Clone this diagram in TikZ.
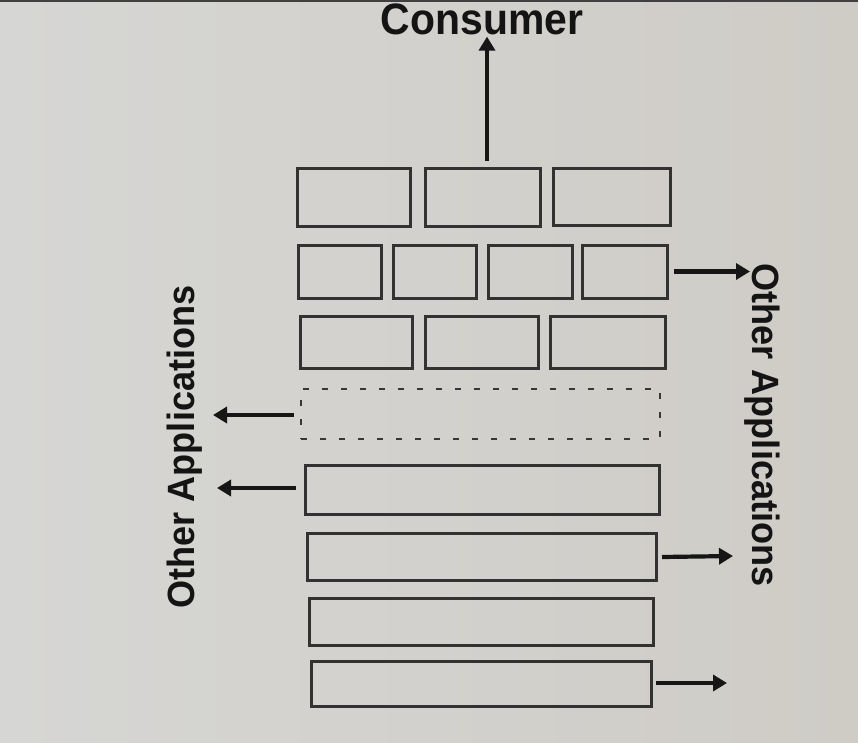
\documentclass[tikz,border=0pt]{standalone}
\usepackage{fontspec}
\usetikzlibrary{arrows.meta}
\newfontfamily\labfont[FakeStretch=0.95]{Liberation Sans Bold}
\newfontfamily\consfont[FakeStretch=0.93]{Liberation Sans Bold}
\definecolor{bgl}{RGB}{214,214,212}
\definecolor{bgm}{RGB}{223,220,214}
\definecolor{bgr}{RGB}{207,204,198}
\definecolor{boxc}{RGB}{50,50,50}
\definecolor{dashc}{RGB}{55,55,55}
\definecolor{arrc}{RGB}{22,22,22}
\definecolor{txtc}{RGB}{20,20,20}
\tikzset{
  brick/.style={draw=boxc, line width=3pt, inner sep=0pt, outer sep=0pt},
  ghost/.style={draw=dashc, line width=2.8pt, dash pattern=on 6pt off 13pt, inner sep=0pt, outer sep=0pt},
  arr/.style={draw=arrc, line width=4.2pt, -{Triangle[length=14pt,width=16pt]}},
  sidelbl/.style={font=\labfont\fontsize{38}{40}\selectfont, text=txtc, inner sep=0pt},
  conslbl/.style={font=\consfont\fontsize{44}{46}\selectfont, text=txtc, inner sep=0pt}
}
\begin{document}
\begin{tikzpicture}[x=1pt,y=-1pt]
  % background (photo of a page)
  \useasboundingbox (0,0) rectangle (858,743);
  \shade[left color=bgl, middle color=bgm, right color=bgr] (0,0) rectangle (858,743);
  \fill[black!75] (0,0) rectangle (858,2);

  % row 1
  \node[brick, minimum width=113pt, minimum height=57pt] (r1a) at (353.5,197.5) {};
  \node[brick, minimum width=115pt, minimum height=57pt] (r1b) at (482.5,197.5) {};
  \node[brick, minimum width=117pt, minimum height=57pt] (r1c) at (611.5,197) {};
  % row 2
  \node[brick, minimum width=83pt, minimum height=53pt] (r2a) at (339.5,271.5) {};
  \node[brick, minimum width=83pt, minimum height=53pt] (r2b) at (434.5,271.5) {};
  \node[brick, minimum width=84pt, minimum height=53pt] (r2c) at (530,271.5) {};
  \node[brick, minimum width=85pt, minimum height=53pt] (r2d) at (624.5,271.5) {};
  % row 3
  \node[brick, minimum width=112pt, minimum height=52pt] (r3a) at (356,342) {};
  \node[brick, minimum width=113pt, minimum height=52pt] (r3b) at (481.5,342) {};
  \node[brick, minimum width=115pt, minimum height=52pt] (r3c) at (607.5,342) {};
  % dashed (missing) layer
  \node[ghost, minimum width=359pt, minimum height=50pt] (r4) at (480.5,414) {};
  % long layers
  \node[brick, minimum width=354pt, minimum height=49pt] (r5) at (482,489.5) {};
  \node[brick, minimum width=349pt, minimum height=47pt] (r6) at (481.5,556.5) {};
  \node[brick, minimum width=344pt, minimum height=47pt] (r7) at (481,621.5) {};
  \node[brick, minimum width=340pt, minimum height=45pt] (r8) at (481,683.5) {};

  % labels
  \node[conslbl, anchor=base] (cons) at (482,35) {Consumer};
  \node[sidelbl, rotate=-90] (rlab) at (762,425) {Other Applications};
  \node[sidelbl, rotate=90] (llab) at (185,447) {Other Applications};

  % free arrow ends
  \coordinate (e2) at (750,271.5);
  \coordinate (e6) at (733,556);
  \coordinate (e8) at (727,683);
  \coordinate (e4) at (213,415);
  \coordinate (e5) at (217,488);

  % connectors
  \draw[arr] ([xshift=4.5pt,yshift=8pt]r1b.north) -- ([xshift=5pt,yshift=-1pt]cons.south);
  \draw[arr] ([xshift=7pt]r2d.east) -- (e2);
  \draw[arr] ([xshift=6pt,yshift=-0.5pt]r6.east) -- (e6);
  \draw[arr] ([xshift=5pt,yshift=0.5pt]r8.east) -- (e8);
  \draw[arr] ([xshift=-7pt,yshift=-1pt]r4.west) -- (e4);
  \draw[arr] ([xshift=-9pt,yshift=1.5pt]r5.west) -- (e5);
\end{tikzpicture}
\end{document}
